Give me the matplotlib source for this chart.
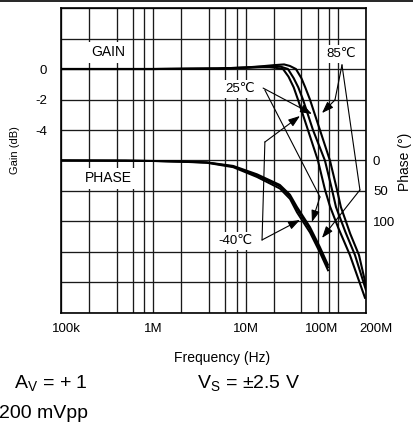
import numpy as np
import matplotlib
matplotlib.use('Agg')
import matplotlib.pyplot as plt
from matplotlib.lines import Line2D
from matplotlib.transforms import offset_copy

plt.rcParams['font.family'] = ['Liberation Sans', 'DejaVu Sans']
plt.rcParams['mathtext.default'] = 'regular'

# gain curves (frequency in MHz, gain in dB)
freq_m40 = [0.1, 1, 5, 10, 15, 18, 21, 25.3, 29, 33, 36.7, 47.1, 60.4, 71.9, 81.5, 100, 134, 195]
gain_m40 = [0, 0, 0.03, 0.08, 0.12, 0.12, 0.08, 0, -0.5, -1.2, -2.0, -4.0, -6.0, -7.9, -9.0, -10.4, -12.2, -15.0]
freq_25 = [0.1, 1, 5, 10, 15, 20, 24, 28.6, 33, 37, 41.6, 53.4, 71.9, 85.7, 94.7, 120, 152, 200]
gain_25 = [0, 0, 0.03, 0.1, 0.15, 0.2, 0.15, 0, -0.6, -1.2, -2.0, -4.0, -6.0, -7.9, -9.05, -10.7, -12.2, -14.5]
freq_85 = [0.1, 1, 5, 10, 15, 20, 26, 30, 34.9, 40, 44, 49.5, 63.5, 81.5, 97, 107, 135, 168, 200]
gain_85 = [0, 0, 0.03, 0.1, 0.18, 0.25, 0.3, 0.2, 0, -0.6, -1.2, -2.0, -4.0, -6.0, -7.9, -9.05, -10.8, -12.2, -14.2]

# phase curves (frequency in MHz, phase in degrees)
phase_freq = [0.1, 0.5, 1, 2, 3.8, 7.3, 13.2, 23.4, 30.1, 35.8, 49.5, 63.5, 77.6]
phase_m40 = [0, 0.3, 0.9, 2.0, 3.8, 11, 27, 46, 63, 85, 118, 151, 180]
phase_25 = [0, 0.3, 0.8, 1.8, 3.3, 9.8, 24.6, 42.6, 59, 80, 113, 146, 175]
phase_85 = [0, 0.3, 0.7, 1.6, 3.0, 8.8, 22.5, 40, 56, 76, 109, 142, 171]

grid_freqs = [m * 10**e for e in range(5, 9) for m in (1, 2, 4, 6, 8) if m * 10**e <= 2e8]
xtick_freqs = [1e5, 1e6, 1e7, 1e8, 2e8]
xtick_labels = ['100k', '1M', '10M', '100M', '200M']
xtick_shift = [4, 0, 0, -12, 7]  # points, labels are nudged in the original
gain_ticks = list(range(-16, 5, 2))
gain_labels = ['0', '-2', '-4']
phase_ticks = [0, 50, 100]

fig = plt.figure(figsize=(4.14, 4.28), dpi=100)
ax = fig.add_axes([0.1473, 0.2687, 0.7367, 0.7126])
ax.set_xscale('log')
ax.set_xlim(1e5, 2e8)
ax.set_ylim(-16, 4)

ax.set_xticks(grid_freqs)
ax.set_xticklabels([])
ax.xaxis.set_minor_locator(matplotlib.ticker.NullLocator())
ax.set_yticks(gain_ticks)
ax.set_yticklabels([t if t in gain_labels else '' for t in [str(v) for v in gain_ticks]])
ax.tick_params(length=0, labelsize=9.5, pad=10)
ax.grid(True, color='#1a1a1a', lw=0.95)
for s in ax.spines.values():
    s.set_linewidth(1.2)

for f, g in [(freq_m40, gain_m40), (freq_25, gain_25), (freq_85, gain_85)]:
    ax.plot(np.array(f) * 1e6, g, color='black', lw=1.5, zorder=4)

ax2 = ax.twinx()
ax2.set_ylim(250, -250)
ax2.set_yticks(phase_ticks)
ax2.tick_params(length=0, labelsize=9.5, pad=5)
for s in ax2.spines.values():
    s.set_visible(False)
for p in [phase_m40, phase_25, phase_85]:
    ax2.plot(np.array(phase_freq) * 1e6, p, color='black', lw=1.4, zorder=4)

# x tick labels
for fq, lab, dx in zip(xtick_freqs, xtick_labels, xtick_shift):
    tr = offset_copy(ax.get_xaxis_transform(), fig=fig, x=dx, y=0, units='points')
    ax.text(fq, -0.052, lab, transform=tr, ha='center', va='center', fontsize=9.5)

box = dict(facecolor='white', edgecolor='none', pad=2.5)
tbox = dict(facecolor='white', edgecolor='none', pad=2)
ax.text(0.323e6, 1.11, 'GAIN', ha='center', va='center', fontsize=10, bbox=box, zorder=5)
ax.text(0.323e6, -7.15, 'PHASE', ha='center', va='center', fontsize=10, bbox=box, zorder=5)
ax.text(107e6, 0.98, '85℃', ha='center', va='center', fontsize=9.5, bbox=tbox, zorder=5)
ax.text(8.65e6, -1.31, '25℃', ha='center', va='center', fontsize=9.5, bbox=tbox, zorder=5)
ax.text(7.64e6, -11.28, '-40℃', ha='center', va='center', fontsize=9.5, bbox=tbox, zorder=5)

# leader lines with arrows (gain-axis data coords: MHz, dB)
leaders = [
    [(110, 0.26), (92.3, -2.03), (66.8, -2.89)],
    [(110, 0.26), (172, -7.93), (66.8, -11.08)],
    [(15.4, -1.25), (52, -2.95)],
    [(16.1, -1.38), (63.5, -8.39), (52, -10.03)],
    [(15, -11.21), (16.1, -4.79), (38.6, -3.08)],
    [(15, -11.21), (38.6, -9.9)],
]
for pts in leaders:
    xs = [p[0] * 1e6 for p in pts]
    ys = [p[1] for p in pts]
    if len(pts) > 2:
        ax.plot(xs[:-1], ys[:-1], color='black', lw=0.8, zorder=6)
    ax.annotate('', xy=(xs[-1], ys[-1]), xytext=(xs[-2], ys[-2]),
                arrowprops=dict(arrowstyle='-|>,head_length=0.7,head_width=0.25',
                                color='black', lw=0.8, shrinkA=0, shrinkB=0,
                                mutation_scale=10), zorder=6)

fig.text(0.036, 0.650, 'Gain (dB)', rotation=90, ha='center', va='center', fontsize=8)
fig.text(0.978, 0.6215, 'Phase (°)', rotation=90, ha='center', va='center', fontsize=10)
fig.text(0.536, 0.1636, 'Frequency (Hz)', ha='center', va='center', fontsize=10)
fig.text(0.2126, 0.105, r'A$_{V}$ = + 1', ha='right', va='center', fontsize=14)
fig.text(0.476, 0.105, r'V$_{S}$ = ±2.5 V', ha='left', va='center', fontsize=14)
fig.text(0.2126, 0.035, '200 mVpp', ha='right', va='center', fontsize=14)
fig.add_artist(Line2D([0, 1], [0.998, 0.998], color='black', lw=1.2))

fig.savefig('out.png', dpi=100)
